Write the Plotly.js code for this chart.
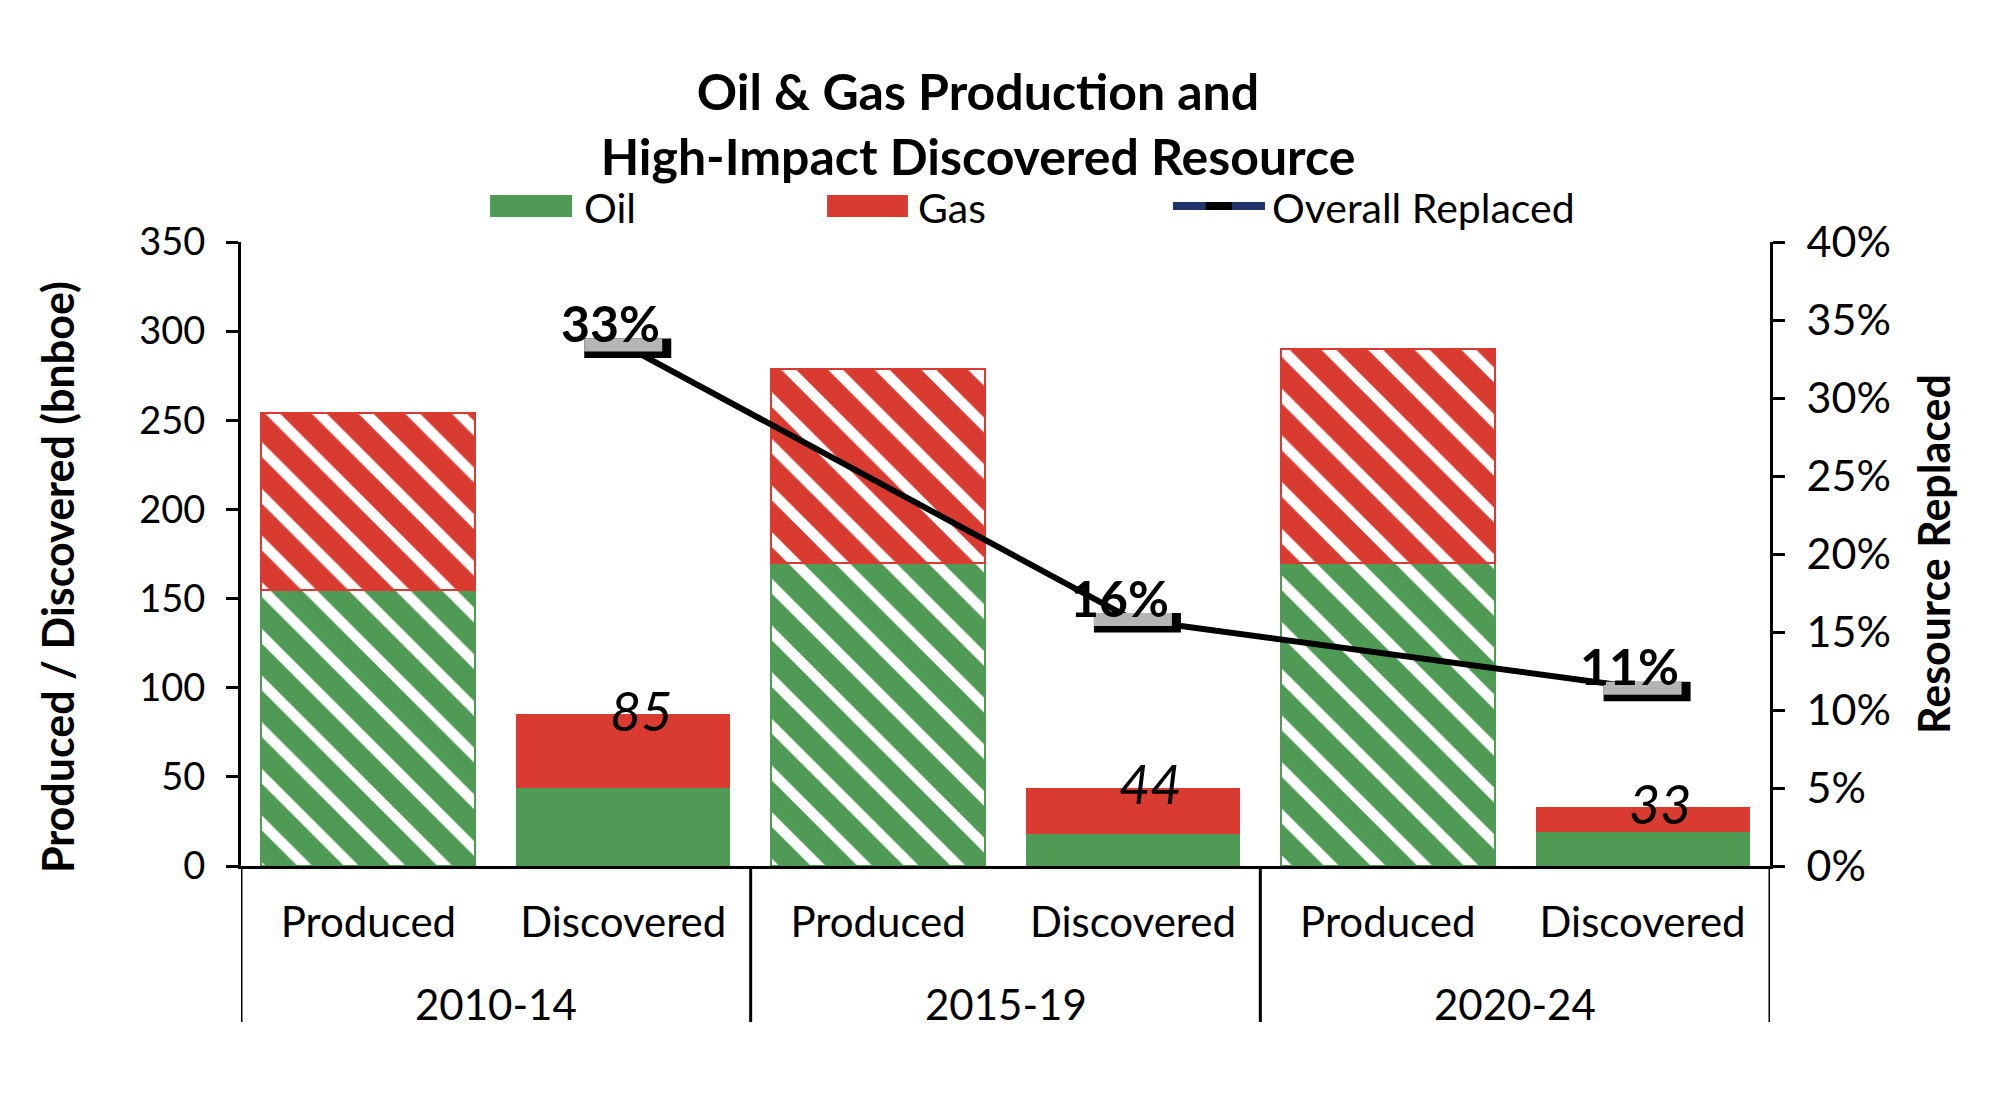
<!DOCTYPE html>
<html>
<head>
<meta charset="utf-8">
<script src="https://cdn.plot.ly/plotly-3.0.1.min.js"></script>
<style>
  html, body { margin: 0; padding: 0; background: #ffffff; }
  #chart { width: 2000px; height: 1098px; }
</style>
</head>
<body>
<div id="chart"></div>
<script>
// ---- data (bnboe) ----
const periods = ['2010-14', '2015-19', '2020-24'];
const stages = ['Produced', 'Discovered'];
const producedOil = [155, 170, 170];
const producedGas = [99, 109, 120];
const discoveredOil = [44, 18, 19];
const discoveredGas = [41, 26, 14];
const replacedShare = [0.334, 0.158, 0.114];
const leftTickVals = [0, 50, 100, 150, 200, 250, 300, 350];
const rightTickVals = [0, 0.05, 0.10, 0.15, 0.20, 0.25, 0.30, 0.35, 0.40];
const legendLabels = ['Oil', 'Gas', 'Overall Replaced'];
const leftAxisTitle = 'Produced / Discovered (bnboe)';
const rightAxisTitle = 'Resource Replaced';

// ---- styling ----
const GREEN = '#4F9A55';
const RED = '#DA3B30';
const NAVY = '#23336B';
const FONT = 'Lato, "Open Sans", sans-serif';

// two bars per period on a numeric axis: Produced at 2g, Discovered at 2g+1
const nStages = stages.length;
const prodIdx = periods.map((p, g) => g * nStages);
const discIdx = periods.map((p, g) => g * nStages + 1);
const tickIdx = [];
const tickText = [];
periods.forEach((p, g) => stages.forEach((s, k) => { tickIdx.push(g * nStages + k); tickText.push(s); }));
const discTotals = discoveredOil.map((v, i) => v + discoveredGas[i]);

function hatch(color) {
  return {
    color: color,
    line: { color: color, width: 2 },
    pattern: { shape: '\\', fgcolor: '#ffffff', bgcolor: color, size: 33, solidity: 0.32, fillmode: 'replace' }
  };
}

const traces = [
  { type: 'bar', name: legendLabels[0], x: prodIdx, y: producedOil, marker: hatch(GREEN), showlegend: false, hoverinfo: 'y' },
  { type: 'bar', name: legendLabels[1], x: prodIdx, y: producedGas, marker: hatch(RED), showlegend: false, hoverinfo: 'y' },
  { type: 'bar', name: legendLabels[0], x: discIdx, y: discoveredOil, marker: { color: GREEN }, showlegend: false, hoverinfo: 'y' },
  { type: 'bar', name: legendLabels[1], x: discIdx, y: discoveredGas, marker: { color: RED }, showlegend: false, hoverinfo: 'y' },
  { type: 'scatter', mode: 'lines', name: legendLabels[2], x: discIdx, y: replacedShare,
    yaxis: 'y2', line: { color: '#000000', width: 6 }, showlegend: false }
];

const shapes = [];
// group dividers below the axis
for (let g = 0; g <= periods.length; g++) {
  shapes.push({ type: 'line', xref: 'x', yref: 'paper', x0: g * nStages - 0.5, x1: g * nStages - 0.5,
    y0: 0, y1: -0.25, line: { color: '#000000', width: 3 } });
}
// dash-shaped markers with a dark drop shadow
replacedShare.forEach((v, i) => {
  shapes.push({ type: 'rect', xref: 'x', yref: 'y2', xsizemode: 'pixel', ysizemode: 'pixel',
    xanchor: discIdx[i], yanchor: v, x0: -39, x1: 48, y0: -13, y1: 6.5,
    fillcolor: '#000000', line: { width: 0 } });
  shapes.push({ type: 'rect', xref: 'x', yref: 'y2', xsizemode: 'pixel', ysizemode: 'pixel',
    xanchor: discIdx[i], yanchor: v, x0: -39, x1: 39, y0: -6.5, y1: 6.5,
    fillcolor: '#B5B5B5', line: { width: 0 } });
});
// legend keys
shapes.push({ type: 'rect', xref: 'paper', yref: 'paper', x0: 0.1629, x1: 0.2165, y0: 1.0401, y1: 1.0753, fillcolor: GREEN, line: { width: 0 } });
shapes.push({ type: 'rect', xref: 'paper', yref: 'paper', x0: 0.3833, x1: 0.4362, y0: 1.0401, y1: 1.0753, fillcolor: RED, line: { width: 0 } });
shapes.push({ type: 'line', xref: 'paper', yref: 'paper', x0: 0.6095, x1: 0.6697, y0: 1.0577, y1: 1.0577, line: { color: NAVY, width: 8 } });
shapes.push({ type: 'line', xref: 'paper', yref: 'paper', x0: 0.6310, x1: 0.6480, y0: 1.0577, y1: 1.0577, line: { color: '#000000', width: 8 } });

const annotations = [];
// period labels under each pair of bars
periods.forEach((p, g) => {
  annotations.push({ xref: 'x', yref: 'paper', x: g * nStages + (nStages - 1) / 2, y: -0.2212, text: p,
    showarrow: false, xanchor: 'center', yanchor: 'middle',
    font: { family: FONT, size: 42, color: '#000000' } });
});
replacedShare.forEach((v, i) => {
  annotations.push({ xref: 'x', yref: 'y2', x: discIdx[i], y: v, text: Math.round(v * 100) + '%',
    showarrow: false, xanchor: 'center', yanchor: 'middle', xshift: -13, yshift: 22,
    font: { family: FONT, size: 50, weight: 700, color: '#000000' } });
});
discTotals.forEach((t, i) => {
  annotations.push({ xref: 'x', yref: 'y', x: discIdx[i], y: t, text: String(t),
    showarrow: false, xanchor: 'center', yanchor: 'middle', xshift: 18, yshift: 4,
    font: { family: FONT, size: 54, style: 'italic', color: '#000000' } });
});
const legendX = [0.2230, 0.4415, 0.6729];
legendLabels.forEach((name, i) => {
  annotations.push({ xref: 'paper', yref: 'paper', x: legendX[i], y: 1.0545, text: name,
    showarrow: false, xanchor: 'left', yanchor: 'middle',
    font: { family: FONT, size: 41, color: '#000000' } });
});
// left axis title
annotations.push({ xref: 'paper', yref: 'paper', x: -0.1203, y: 0.4631, text: leftAxisTitle,
  textangle: -90, showarrow: false, xanchor: 'center', yanchor: 'middle',
  font: { family: FONT, size: 43, weight: 700, color: '#000000' } });

const axisCommon = {
  showgrid: false, zeroline: false, showline: true, linecolor: '#000000', linewidth: 3,
  ticks: 'outside', ticklen: 12, tickwidth: 3, tickcolor: '#000000', ticklabelstandoff: 13
};

const layout = {
  width: 2000, height: 1098,
  paper_bgcolor: '#ffffff', plot_bgcolor: '#ffffff',
  margin: { l: 241, r: 230, t: 242, b: 232 },
  barmode: 'stack', bargap: 0.16,
  showlegend: false,
  title: {
    text: 'Oil & Gas Production and<br>High-Impact Discovered Resource',
    font: { family: FONT, size: 50, weight: 700, color: '#000000' },
    xref: 'container', x: 0.489, xanchor: 'center',
    yref: 'container', y: 0.9001, yanchor: 'top'
  },
  xaxis: {
    range: [-0.5, periods.length * nStages - 0.5],
    tickvals: tickIdx, ticktext: tickText,
    showgrid: false, zeroline: false,
    showline: true, linecolor: '#000000', linewidth: 3, ticks: '', ticklabelstandoff: 18,
    tickfont: { family: FONT, size: 42, color: '#000000' }
  },
  yaxis: Object.assign({}, axisCommon, {
    range: [0, 350], tickvals: leftTickVals,
    tickfont: { family: FONT, size: 38, color: '#000000' }
  }),
  yaxis2: Object.assign({}, axisCommon, {
    overlaying: 'y', side: 'right', range: [0, 0.4], tickvals: rightTickVals, tickformat: '.0%',
    tickfont: { family: FONT, size: 43, color: '#000000' },
    title: { text: rightAxisTitle, standoff: 30,
      font: { family: FONT, size: 43, weight: 700, color: '#000000' } }
  }),
  shapes: shapes,
  annotations: annotations
};

Plotly.newPlot('chart', traces, layout, { displayModeBar: false, responsive: false });
</script>
</body>
</html>
